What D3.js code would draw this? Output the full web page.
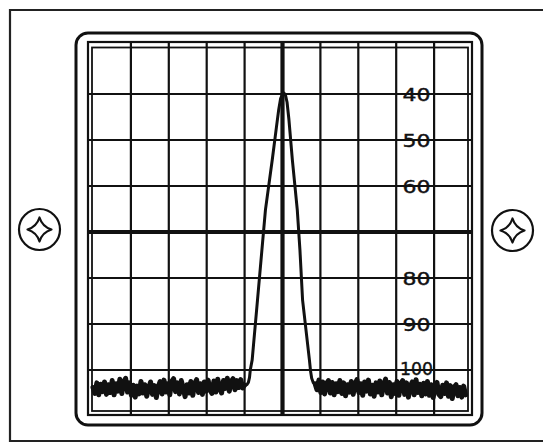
<!DOCTYPE html>
<html>
<head>
<meta charset="utf-8">
<script src="https://cdn.jsdelivr.net/npm/d3@7/dist/d3.min.js"></script>
<style>
  html, body { margin: 0; padding: 0; background: #fff; }
  svg { display: block; }
</style>
</head>
<body>
<svg id="screen" width="543" height="443"></svg>
<script>
// Horizontal graticule: frequency offset in divisions from the centre.
const divisions = [-4, -3, -2, -1, 1, 2, 3, 4];
const centreDivision = 0;

// Vertical graticule: attenuation in dB (top of screen = 30 dB).
const dbGridLevels = [40, 50, 60, 80, 90, 100];
const referenceLevel = 70;
const dbLabelLevels = [40, 50, 60, 80, 90, 100];
const dbLabels = ["40", "50", "60", "80", "90", "100"];

// Carrier response: [division, dB]
const peakTrace = [
  [-1.00, 103.4], [-0.94, 103.2], [-0.90, 102.7], [-0.87, 101.6], [-0.85, 100.0],
  [-0.80, 97.8], [-0.66, 84.8], [-0.45, 65.2], [-0.27, 54.3], [-0.16, 47.2],
  [-0.10, 43.4], [-0.05, 41.0], [0.00, 40.0], [0.04, 39.8], [0.08, 40.3],
  [0.12, 41.8], [0.17, 45.6], [0.26, 54.3], [0.39, 65.2], [0.46, 73.9],
  [0.53, 84.8], [0.71, 97.8], [0.74, 100.2], [0.77, 101.8], [0.81, 102.7],
  [0.86, 103.0]
];

// Noise floor samples (dB) on each side of the carrier.
const noiseLeftSpan = [-5.0, -1.00];
const noiseLeft = [
  103.8,105.1,102.8,105.4,103.1,104.7,102.6,105.3,103.2,104.9,
  102.3,105.4,103.0,104.6,102.0,105.1,102.7,101.8,104.8,102.8,
  105.5,103.3,105.9,103.5,105.2,102.5,105.0,103.2,105.7,103.9,
  102.6,105.3,103.4,106.0,103.6,102.5,105.2,102.2,104.8,103.0,
  105.4,102.5,101.9,104.7,102.8,105.2,102.3,103.9,105.8,103.2,
  105.0,102.5,105.5,102.9,102.1,104.9,103.0,105.3,102.6,104.6,
  102.2,104.4,105.1,102.4,104.8,102.0,103.9,105.0,102.3,104.0,
  101.8,104.6,102.5,101.9,104.3,102.3,103.8,102.1,103.9,103.3
];
const noiseRightSpan = [0.86, 4.83];
const noiseRight = [
  103.0,104.3,102.2,104.9,102.6,105.2,102.9,102.3,105.0,102.7,
  105.4,103.0,104.7,102.3,105.1,102.8,105.6,103.2,104.8,102.5,
  105.3,102.9,102.1,104.9,103.0,105.5,102.6,104.6,102.2,105.2,
  103.3,105.7,102.8,104.8,102.4,105.4,103.1,102.0,105.0,102.7,
  105.8,103.2,105.1,102.5,105.5,103.0,102.3,105.3,102.8,105.9,
  103.5,102.6,105.4,102.1,104.9,103.1,105.6,102.9,105.2,102.5,
  105.5,103.2,106.0,103.6,102.7,105.3,105.8,103.3,105.1,102.8,
  105.7,103.4,106.2,103.7,103.2,105.6,103.8,105.9,103.5,105.4
];

const svg = d3.select("#screen");
const ink = "#111";

const x = d3.scaleLinear().domain([-5, 5]).range([93, 472]);
const y = d3.scaleLinear().domain([30, 110]).range([48, 416]);

// Graticule extents
const gLeft = 88, gRight = 472, gTop = 42, gBottom = 415;

// Front panel outline
svg.append("path")
  .attr("d", "M545,10 H10 V441 H545")
  .attr("fill", "none").attr("stroke", "#222").attr("stroke-width", 2.2);

// Screen bezel
svg.append("rect")
  .attr("x", 76).attr("y", 33).attr("width", 406).attr("height", 392)
  .attr("rx", 12).attr("ry", 12)
  .attr("fill", "none").attr("stroke", ink).attr("stroke-width", 3);

// Mounting screws
const screws = [[39.5, 229.5], [512.5, 230.5]];
screws.forEach(([cx, cy]) => {
  svg.append("circle").attr("cx", cx).attr("cy", cy).attr("r", 20.5)
    .attr("fill", "none").attr("stroke", ink).attr("stroke-width", 2.2);
  const r = 12, k = 2.8;
  svg.append("path")
    .attr("d", `M${cx},${cy - r} Q${cx + k},${cy - k} ${cx + r},${cy}` +
               ` Q${cx + k},${cy + k} ${cx},${cy + r}` +
               ` Q${cx - k},${cy + k} ${cx - r},${cy}` +
               ` Q${cx - k},${cy - k} ${cx},${cy - r}Z`)
    .attr("fill", "none").attr("stroke", ink).attr("stroke-width", 2.2)
    .attr("stroke-linejoin", "round");
});

// Graticule double frame
svg.append("rect")
  .attr("x", gLeft).attr("y", gTop).attr("width", gRight - gLeft).attr("height", gBottom - gTop)
  .attr("fill", "none").attr("stroke", ink).attr("stroke-width", 2.2);
svg.append("rect")
  .attr("x", 92).attr("y", 47.5).attr("width", 376).attr("height", 363.5)
  .attr("fill", "none").attr("stroke", ink).attr("stroke-width", 1.8);

// Grid lines
const grid = svg.append("g").attr("stroke", ink).attr("fill", "none");
grid.selectAll("line.v").data(divisions).join("line")
  .attr("class", "v")
  .attr("x1", d => x(d)).attr("x2", d => x(d))
  .attr("y1", gTop).attr("y2", gBottom)
  .attr("stroke-width", 2.2);
grid.selectAll("line.h").data(dbGridLevels).join("line")
  .attr("class", "h")
  .attr("x1", gLeft).attr("x2", gRight)
  .attr("y1", d => y(d)).attr("y2", d => y(d))
  .attr("stroke-width", 2.2);
grid.append("line")
  .attr("x1", gLeft).attr("x2", gRight)
  .attr("y1", y(referenceLevel)).attr("y2", y(referenceLevel))
  .attr("stroke-width", 3.8);
grid.append("line")
  .attr("x1", x(centreDivision)).attr("x2", x(centreDivision))
  .attr("y1", gTop).attr("y2", gBottom)
  .attr("stroke-width", 4.2);

// dB scale labels
svg.append("g").selectAll("text").data(dbLabelLevels).join("text")
  .attr("x", 416.5)
  .attr("y", d => y(d) - (d === 100 ? 2 : 0))
  .attr("text-anchor", "middle")
  .attr("dominant-baseline", "central")
  .attr("font-family", "DejaVu Sans, sans-serif")
  .attr("font-size", 18)
  .attr("fill", ink)
  .attr("stroke", ink).attr("stroke-width", 0.4)
  .attr("textLength", (d, i) => dbLabels[i].length === 3 ? 33 : 28)
  .attr("lengthAdjust", "spacingAndGlyphs")
  .text((d, i) => dbLabels[i]);

// Trace
const line = d3.line().x(d => x(d[0])).y(d => y(d[1]));
const noisePoints = (span, vals) => vals.map((v, i) =>
  [span[0] + (span[1] - span[0]) * i / (vals.length - 1), v]);

const trace = svg.append("g").attr("fill", "none").attr("stroke", ink)
  .attr("stroke-linejoin", "round").attr("stroke-linecap", "round");
trace.append("path")
  .attr("d", line(noisePoints(noiseLeftSpan, noiseLeft)))
  .attr("stroke-width", 5);
trace.append("path")
  .attr("d", line(noisePoints(noiseRightSpan, noiseRight)))
  .attr("stroke-width", 5);
trace.append("path")
  .attr("d", line(peakTrace))
  .attr("stroke-width", 3);
</script>
</body>
</html>
